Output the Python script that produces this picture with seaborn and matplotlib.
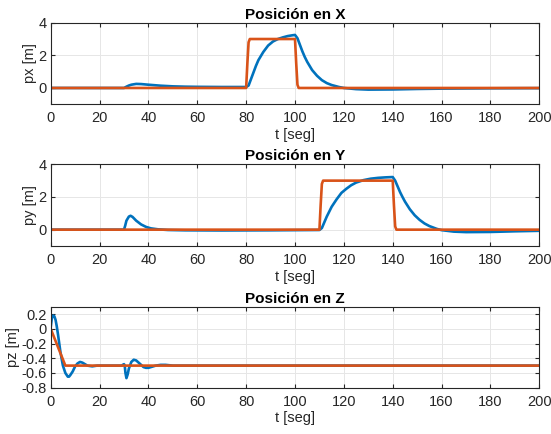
import numpy as np
import matplotlib
matplotlib.use("Agg")
import matplotlib.pyplot as plt
import seaborn as sns

# Posicion en X
tx_ref = [0, 80, 80.5, 81, 81.5, 100, 100.5, 101, 101.5, 200]
px_ref = [0, 0, 1.5, 2.8, 3.0, 3.0, 1.5, 0.2, 0.0, 0]
tx = [0, 30, 31, 32, 33, 35, 37, 40, 45, 50, 55, 60, 70, 80, 81, 82, 83, 84, 85, 87, 89, 91, 93, 95,
      97, 99, 100, 101, 102, 103, 104, 105, 107, 109, 111, 113, 115, 118, 120, 125, 130, 140, 150,
      160, 180, 200]
px = [0, 0, 0.08, 0.15, 0.2, 0.25, 0.24, 0.2, 0.14, 0.1, 0.08, 0.07, 0.06, 0.06, 0.15, 0.55, 0.95,
      1.35, 1.7, 2.2, 2.6, 2.85, 3.0, 3.1, 3.18, 3.23, 3.25, 3.05, 2.65, 2.25, 1.9, 1.6, 1.1, 0.75,
      0.48, 0.3, 0.18, 0.06, 0.0, -0.07, -0.1, -0.09, -0.06, -0.04, -0.02, -0.01]

# Posicion en Y
ty_ref = [0, 110, 110.5, 111, 111.5, 140, 140.5, 141, 141.5, 200]
py_ref = [0, 0, 1.5, 2.8, 3.0, 3.0, 1.5, 0.2, 0.0, 0]
ty = [0, 30, 30.5, 31, 32, 32.7, 33.5, 35, 37, 39, 41, 44, 48, 55, 70, 90, 110, 111, 112, 113, 114,
      115, 117, 119, 121, 123, 125, 128, 131, 134, 137, 140, 141, 142, 143, 144, 145, 147, 149, 151,
      153, 155, 158, 160, 165, 170, 180, 190, 200]
py = [0, 0, 0.25, 0.55, 0.8, 0.85, 0.78, 0.55, 0.32, 0.17, 0.08, 0.02, -0.02, -0.04, -0.05, -0.04,
      -0.02, 0.1, 0.45, 0.8, 1.1, 1.4, 1.85, 2.25, 2.5, 2.72, 2.88, 3.03, 3.12, 3.17, 3.2, 3.22, 3.0,
      2.65, 2.3, 2.0, 1.72, 1.25, 0.88, 0.6, 0.38, 0.22, 0.05, -0.03, -0.12, -0.15, -0.14, -0.1, -0.07]

# Posicion en Z
tz_ref = [0, 6, 200]
pz_ref = [0, -0.5, -0.5]
tz = [0, 0.5, 1, 1.5, 2, 2.5, 3, 3.5, 4, 5, 6, 7, 7.5, 8, 9, 10, 11, 12, 13, 14, 15, 17, 19, 22, 25,
      29, 30, 30.3, 30.6, 31, 31.5, 32, 33, 34, 35, 36, 37, 38, 39, 40, 41, 43, 45, 47, 50, 55, 60, 200]
pz = [0.02, 0.15, 0.18, 0.17, 0.12, 0.03, -0.08, -0.2, -0.32, -0.5, -0.6, -0.65, -0.65, -0.63, -0.58,
      -0.51, -0.47, -0.45, -0.46, -0.48, -0.5, -0.51, -0.5, -0.5, -0.5, -0.5, -0.48, -0.5, -0.6, -0.67,
      -0.62, -0.54, -0.45, -0.42, -0.43, -0.46, -0.49, -0.52, -0.53, -0.53, -0.52, -0.5, -0.49, -0.49,
      -0.5, -0.5, -0.5, -0.5]

sns.set_theme(style="whitegrid")
plt.rcParams['font.family'] = ['Liberation Sans', 'DejaVu Sans']

azul = "#0072BD"
naranja = "#D95319"
gris = "#262626"

fig = plt.figure(figsize=(5.51, 4.34), dpi=100)
W, H = 551, 434
paneles = [
    (22.7, 104.3, tx, px, tx_ref, px_ref, "Posición en X", "px [m]", (-1, 4), [0, 2, 4]),
    (164.3, 246.0, ty, py, ty_ref, py_ref, "Posición en Y", "py [m]", (-1, 4), [0, 2, 4]),
    (306.7, 387.7, tz, pz, tz_ref, pz_ref, "Posición en Z", "pz [m]", (-0.8, 0.3),
     [-0.8, -0.6, -0.4, -0.2, 0, 0.2]),
]

for top, bot, t, y, tr, yr, titulo, ylab, ylim, yt in paneles:
    ax = fig.add_axes([50.7 / W, 1 - bot / H, (539.3 - 50.7) / W, (bot - top) / H])
    sns.lineplot(x=t, y=y, ax=ax, color=azul, linewidth=1.9)
    sns.lineplot(x=tr, y=yr, ax=ax, color=naranja, linewidth=1.9)
    ax.set_xlim(0, 200)
    ax.set_ylim(*ylim)
    ax.set_xticks(range(0, 201, 20))
    ax.set_yticks(yt)
    ax.set_yticklabels([f"{v:g}" for v in yt])
    ax.set_facecolor("white")
    ax.grid(True, color="#e6e6e6", linewidth=0.7)
    for s in ax.spines.values():
        s.set_color(gris)
        s.set_linewidth(0.8)
    ax.tick_params(direction="in", length=3, width=0.8, colors=gris, labelsize=10.5,
                   top=True, right=True, bottom=True, left=True)
    ax.tick_params(axis="x", pad=5)
    ax.tick_params(axis="y", pad=3)
    ax.set_title(titulo, fontsize=11, fontweight="bold", color="black", pad=3)
    ax.set_xlabel("t [seg]", fontsize=10.5, color=gris, labelpad=2)
    ax.set_ylabel(ylab, fontsize=10.5, color=gris, labelpad=1)

fig.savefig("out.png", dpi=100)
